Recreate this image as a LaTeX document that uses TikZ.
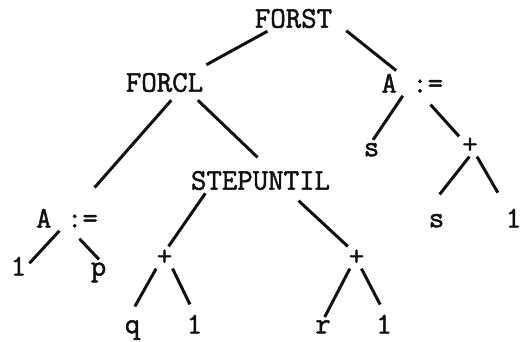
\documentclass[tikz,border=0pt]{standalone}
\usepackage{fontspec}
\usepackage{xcolor}
\usepackage{tikz}
\newfontfamily\typer{Latin Modern Mono}[FakeBold=1.6]
\definecolor{Ink}{HTML}{111111}

\begin{document}
\begin{tikzpicture}[
  x=1pt,y=-1pt,
  word/.style={inner sep=3pt,text=Ink,font=\fontsize{30}{31}\selectfont\typer},
  link/.style={line width=3pt,draw=Ink}
]
  \useasboundingbox (0,0) rectangle (521,341);

  \node[word,inner xsep=14pt] (forst) at (293.5,18.5) {FORST};
  \node[word,inner ysep=8pt] (forcl) at (164.5,82.5) {FORCL};
  \node[word] (asgr) at (412.3,83.15) {A :=};
  \node[word] (sr) at (371.5,149.75) {s};
  \node[word] (plr) at (470,145.5) {+};
  \node[word] (stepuntil) at (260.5,180.5) {STEPUNTIL};
  \node[word] (asgl) at (67,218.15) {A :=};
  \node[word] (sb) at (436.5,220.75) {s};
  \node[word] (onea) at (513.5,218.15) {1};
  \node[word] (oneb) at (18.5,266.15) {1};
  \node[word] (p) at (98.5,272.45) {p};
  \node[word] (plq) at (164.5,257.5) {+};
  \node[word] (plrr) at (356.5,257.5) {+};
  \node[word] (q) at (132.5,330) {q};
  \node[word] (onec) at (194.5,324.15) {1};
  \node[word] (r) at (323,326.75) {r};
  \node[word] (oned) at (384,324.15) {1};

  \draw[link] (forst.206) -- (forcl.north east);
  \draw[link] (forst.347) -- (asgr.142);
  \draw[link,shorten >=24pt] (forcl.291) -- (asgl.47);
  \draw[link,shorten >=15pt] (forcl.332) -- (stepuntil.58);
  \draw[link] (asgr.233) -- (sr.81);
  \draw[link,shorten <=12pt] (asgr.309) -- (plr.140);
  \draw[link,shorten >=21pt] (plr.267) -- (sb.135);
  \draw[link,shorten >=15pt] (plr.302) -- (onea.123);
  \draw[link] (stepuntil.193) -- (plq.70);
  \draw[link,shorten <=11pt] (stepuntil.337) -- (plrr.128);
  \draw[link] (asgl.239) -- (oneb.15);
  \draw[link,shorten <=11pt] (asgl.291) -- (p.88);
  \draw[link,shorten >=12pt] (plq.233) -- (q.105);
  \draw[link,shorten >=8pt] (plq.306) -- (onec.95);
  \draw[link] (plrr.239) -- (r.80);
  \draw[link,shorten >=8pt] (plrr.294) -- (oned.91);

\end{tikzpicture}
\end{document}
